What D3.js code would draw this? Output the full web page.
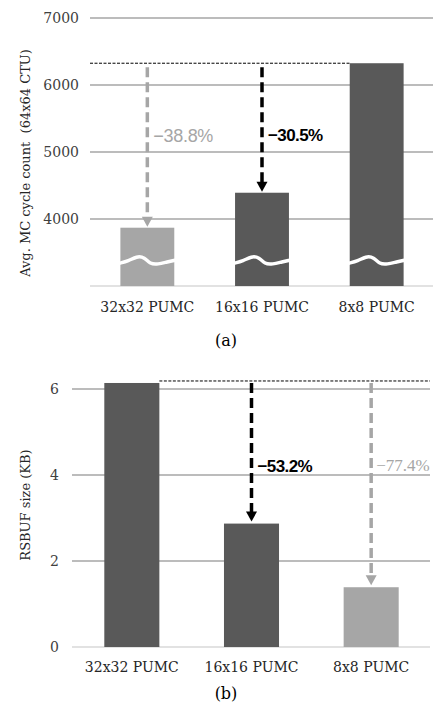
<!DOCTYPE html>
<html><head><meta charset="utf-8">
<script src="https://cdn.jsdelivr.net/npm/d3@7"></script>
<style>body{margin:0;background:#fff}svg{display:block}</style>
</head><body>
<script>
const categories = ["32x32 PUMC", "16x16 PUMC", "8x8 PUMC"];
const cycleValues = [3870, 4392, 6325];
const cycleTicks = [4000, 5000, 6000, 7000];
const cyclePct = ["−38.8%", "−30.5%", null];
const rsbufValues = [6.14, 2.87, 1.39];
const rsbufTicks = [0, 2, 4, 6];
const rsbufPct = [null, "−53.2%", "−77.4%"];

const W = 433, H = 704;
const DARK = "#595959", LIGHT = "#a6a6a6", GRID = "#a6a6a6";
const svg = d3.select("body").append("svg").attr("width", W).attr("height", H);

function arrow(g, x, y1, y2, color) {
  g.append("line").attr("x1", x).attr("x2", x).attr("y1", y1).attr("y2", y2 - 9)
    .attr("stroke", color).attr("stroke-width", 3.5).attr("stroke-dasharray", "10,5");
  g.append("path").attr("d", `M${x-5.5},${y2-10}L${x+5.5},${y2-10}L${x},${y2}Z`).attr("fill", color);
}

// ---------- Chart (a) ----------
{
  const g = svg.append("g");
  const x = d3.scaleBand().domain(categories).range([90, 434]).paddingInner(0.53).paddingOuter(0.265);
  const y = d3.scaleLinear().domain([3000, 7000]).range([286, 18]);
  const colors = [LIGHT, DARK, DARK];

  g.selectAll(".grid").data(cycleTicks).join("line")
    .attr("x1", 90).attr("x2", 433).attr("y1", d => y(d)).attr("y2", d => y(d))
    .attr("stroke", GRID).attr("stroke-width", 1.3);
  g.append("line").attr("x1", 90).attr("x2", 433).attr("y1", y(3000)).attr("y2", y(3000))
    .attr("stroke", "#d9d9d9").attr("stroke-width", 1.5);

  g.selectAll(".tick").data(cycleTicks).join("text")
    .attr("x", 79).attr("y", d => y(d)).attr("dy", "0.35em").attr("text-anchor", "end")
    .attr("font-family", "DejaVu Serif").attr("font-size", 14).attr("fill", "#404040").text(d => d);

  g.selectAll(".bar").data(cycleValues).join("rect")
    .attr("x", (d, i) => x(categories[i])).attr("width", x.bandwidth())
    .attr("y", d => y(d)).attr("height", d => y(3000) - y(d)).attr("fill", (d, i) => colors[i]);

  // break waves
  const wy = y(3370);
  categories.forEach(c => {
    const x0 = x(c), w = x.bandwidth();
    const line = d3.line().curve(d3.curveBasis);
    const pts = [[x0-1, wy+2], [x0 + w*0.15, wy], [x0 + w*0.3, wy-5], [x0 + w*0.45, wy-4],
                 [x0 + w*0.55, wy+3], [x0 + w*0.7, wy+3], [x0 + w*0.85, wy+1], [x0 + w + 1, wy-1]];
    g.append("path").attr("d", line(pts)).attr("fill", "none").attr("stroke", "#fff").attr("stroke-width", 3.5);
  });

  const maxV = cycleValues[2];
  g.append("line").attr("x1", 90).attr("x2", x(categories[2])).attr("y1", y(maxV)).attr("y2", y(maxV))
    .attr("stroke", "#000").attr("stroke-width", 1).attr("stroke-dasharray", "3,1.5");

  const ac = [LIGHT, "#000"];
  [0, 1].forEach(i => {
    const cx = x(categories[i]) + x.bandwidth() / 2;
    arrow(g, cx, y(maxV) + 4, y(cycleValues[i]) - 1, ac[i]);
  });
  const pcx0 = x(categories[0]) + x.bandwidth() / 2;
  g.append("text").attr("x", pcx0 + 6).attr("y", 136).attr("dy", "0.35em")
    .attr("font-family", "Liberation Sans").attr("font-size", 18).attr("letter-spacing", -0.3)
    .attr("fill", LIGHT).text(cyclePct[0]);
  const pcx1 = x(categories[1]) + x.bandwidth() / 2;
  g.append("text").attr("x", pcx1 + 6).attr("y", 135).attr("dy", "0.35em")
    .attr("font-family", "Liberation Sans").attr("font-weight", "bold").attr("letter-spacing", -0.6)
    .attr("font-size", 17).attr("fill", "#000").text(cyclePct[1]);

  g.selectAll(".cat").data(categories).join("text")
    .attr("x", d => x(d) + x.bandwidth() / 2).attr("y", 307).attr("dy", "0.35em").attr("text-anchor", "middle")
    .attr("font-family", "DejaVu Serif").attr("font-size", 14).attr("fill", "#262626").text(d => d);

  g.append("text").attr("transform", "translate(25,163) rotate(-90)").attr("dy", "0.35em")
    .attr("text-anchor", "middle").attr("font-family", "DejaVu Serif").attr("font-size", 13).attr("fill", "#262626")
    .attr("xml:space", "preserve").text("Avg. MC cycle count  (64x64 CTU)");

  g.append("text").attr("x", 226).attr("y", 340).attr("dy", "0.35em").attr("text-anchor", "middle")
    .attr("font-family", "DejaVu Serif").attr("font-size", 16).attr("fill", "#000").text("(a)");
}

// ---------- Chart (b) ----------
{
  const g = svg.append("g");
  const x = d3.scaleBand().domain(categories).range([72, 431]).paddingInner(0.54).paddingOuter(0.27);
  const y = d3.scaleLinear().domain([0, 6]).range([647, 389]);
  const colors = [DARK, DARK, LIGHT];

  g.selectAll(".grid").data(rsbufTicks.filter(d => d > 0)).join("line")
    .attr("x1", 72).attr("x2", 430).attr("y1", d => y(d)).attr("y2", d => y(d))
    .attr("stroke", GRID).attr("stroke-width", 1.3);
  g.append("line").attr("x1", 72).attr("x2", 430).attr("y1", y(0)).attr("y2", y(0))
    .attr("stroke", "#d9d9d9").attr("stroke-width", 1.5);

  g.selectAll(".tick").data(rsbufTicks).join("text")
    .attr("x", 59).attr("y", d => y(d)).attr("dy", "0.35em").attr("text-anchor", "end")
    .attr("font-family", "DejaVu Serif").attr("font-size", 14).attr("fill", "#404040").text(d => d);

  g.selectAll(".bar").data(rsbufValues).join("rect")
    .attr("x", (d, i) => x(categories[i])).attr("width", x.bandwidth())
    .attr("y", d => y(d)).attr("height", d => y(0) - y(d)).attr("fill", (d, i) => colors[i]);

  const maxV = rsbufValues[0];
  const topY = y(maxV) - 2;
  g.append("line").attr("x1", x(categories[0]) + x.bandwidth()).attr("x2", 430).attr("y1", topY).attr("y2", topY)
    .attr("stroke", "#000").attr("stroke-width", 1).attr("stroke-dasharray", "3,1.5");

  const ac = [null, "#000", LIGHT];
  [1, 2].forEach(i => {
    const cx = x(categories[i]) + x.bandwidth() / 2;
    arrow(g, cx, topY + 2, y(rsbufValues[i]) - 2, ac[i]);
  });
  const c1 = x(categories[1]) + x.bandwidth() / 2;
  g.append("text").attr("x", c1 + 6).attr("y", 466).attr("dy", "0.35em")
    .attr("font-family", "Liberation Sans").attr("font-weight", "bold").attr("letter-spacing", -0.6)
    .attr("font-size", 17).attr("fill", "#000").text(rsbufPct[1]);
  const c2 = x(categories[2]) + x.bandwidth() / 2;
  g.append("text").attr("x", c2 + 5).attr("y", 465).attr("dy", "0.35em")
    .attr("font-family", "Liberation Serif").attr("font-size", 17).attr("fill", LIGHT).text(rsbufPct[2]);

  g.selectAll(".cat").data(categories).join("text")
    .attr("x", d => x(d) + x.bandwidth() / 2).attr("y", 667).attr("dy", "0.35em").attr("text-anchor", "middle")
    .attr("font-family", "DejaVu Serif").attr("font-size", 14).attr("fill", "#262626").text(d => d);

  g.append("text").attr("transform", "translate(25,505) rotate(-90)").attr("dy", "0.35em")
    .attr("text-anchor", "middle").attr("font-family", "DejaVu Serif").attr("font-size", 13).attr("fill", "#262626")
    .text("RSBUF size (KB)");

  g.append("text").attr("x", 226).attr("y", 693).attr("dy", "0.35em").attr("text-anchor", "middle")
    .attr("font-family", "DejaVu Serif").attr("font-size", 16).attr("fill", "#000").text("(b)");
}
</script>
</body></html>
